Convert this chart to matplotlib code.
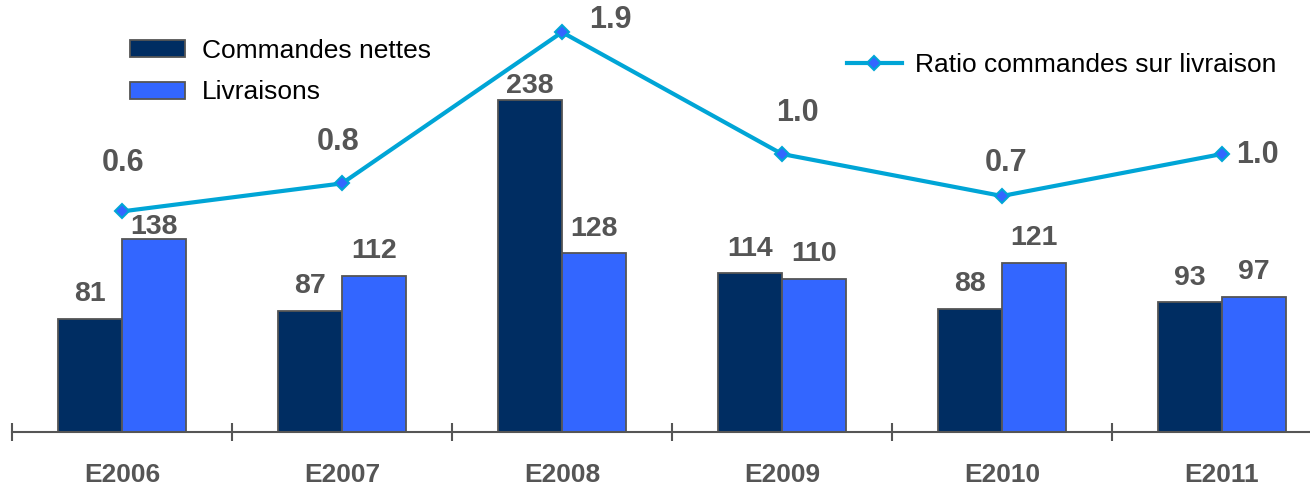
import matplotlib.pyplot as plt
import numpy as np

# data
years = ['E2006', 'E2007', 'E2008', 'E2009', 'E2010', 'E2011']
commandes = [81, 87, 238, 114, 88, 93]
livraisons = [138, 112, 128, 110, 121, 97]
ratio = [0.59, 0.79, 1.87, 1.0, 0.7, 1.0]
ratio_labels = ['0.6', '0.8', '1.9', '1.0', '0.7', '1.0']

navy = '#002D62'
blue = '#3366FF'
cyan = '#00A5D6'
grey = '#555555'

plt.rcParams['font.family'] = ['Liberation Sans', 'DejaVu Sans']

fig = plt.figure(figsize=(13.1, 4.88), dpi=100)
ax = fig.add_axes([12/1310, 56/488, 1298/1310, 432/488])

x = np.arange(len(years))
w = 0.29
b1 = ax.bar(x - w/2, commandes, w, color=navy, edgecolor=grey, linewidth=1.3,
            label='Commandes nettes', zorder=2)
b2 = ax.bar(x + w/2, livraisons, w, color=blue, edgecolor=grey, linewidth=1.3,
            label='Livraisons', zorder=2)

# gap (pixels) between bar top and its value label
gap1 = [12, 12, 1, 11, 12, 11]
gap2 = [-1, 12, 11, 12, 12, 12]
for i in range(len(years)):
    ax.annotate(str(commandes[i]), (x[i] - w/2, commandes[i]), xytext=(0, gap1[i]),
                textcoords='offset pixels', ha='center', va='bottom',
                fontsize=20.5, fontweight='bold', color=grey)
    ax.annotate(str(livraisons[i]), (x[i] + w/2, livraisons[i]), xytext=(0, gap2[i]),
                textcoords='offset pixels', ha='center', va='bottom',
                fontsize=20.5, fontweight='bold', color=grey)

for s in ['top', 'left', 'right']:
    ax.spines[s].set_visible(False)
ax.spines['bottom'].set_color(grey)
ax.spines['bottom'].set_linewidth(1.5)
ax.set_yticks([])
ax.set_xticks(x)
ax.set_xticklabels(years, fontsize=19, fontweight='bold', color=grey)
ax.tick_params(axis='x', which='major', length=0, pad=22)
ax.set_xticks(np.arange(-0.5, 6, 1), minor=True)
ax.tick_params(axis='x', which='minor', direction='inout', length=13, width=1.5, color=grey)
ax.set_xlim(-0.5, 5.4)
ax.set_ylim(0, 432/1.395)

ax2 = ax.twinx()
ax2.set_ylim(-138/140, 294/140)
ln, = ax2.plot(x, ratio, color=cyan, lw=3, marker='D', markersize=7,
               markerfacecolor=blue, markeredgecolor=cyan, markeredgewidth=1.5,
               label='Ratio commandes sur livraison', zorder=3)
for s in ax2.spines.values():
    s.set_visible(False)
ax2.set_yticks([])
ax2.set_xlim(-0.5, 5.4)

# label offsets (pixels) from each ratio point
offs = [(1, 48), (-4, 41), (48, 12), (15, 41), (4, 33), (35, -1)]
for i in range(len(years)):
    ax2.annotate(ratio_labels[i], (x[i], ratio[i]), xytext=offs[i],
                 textcoords='offset pixels', ha='center', va='center',
                 fontsize=22, fontweight='bold', color=grey)

leg1 = ax.legend(handles=[b1, b2], loc='upper left', bbox_to_anchor=(106/1310, 1 - 15/488),
                 bbox_transform=fig.transFigure, frameon=False, fontsize=19,
                 handlelength=2.1, handleheight=0.6, handletextpad=0.65, labelspacing=0.67)
leg2 = ax2.legend(handles=[ln], loc='upper left', bbox_to_anchor=(823/1310, 1 - 29/488),
                  bbox_transform=fig.transFigure, frameon=False, fontsize=19,
                  handlelength=2.1, handletextpad=0.5)

fig.savefig('out.png', dpi=100)
